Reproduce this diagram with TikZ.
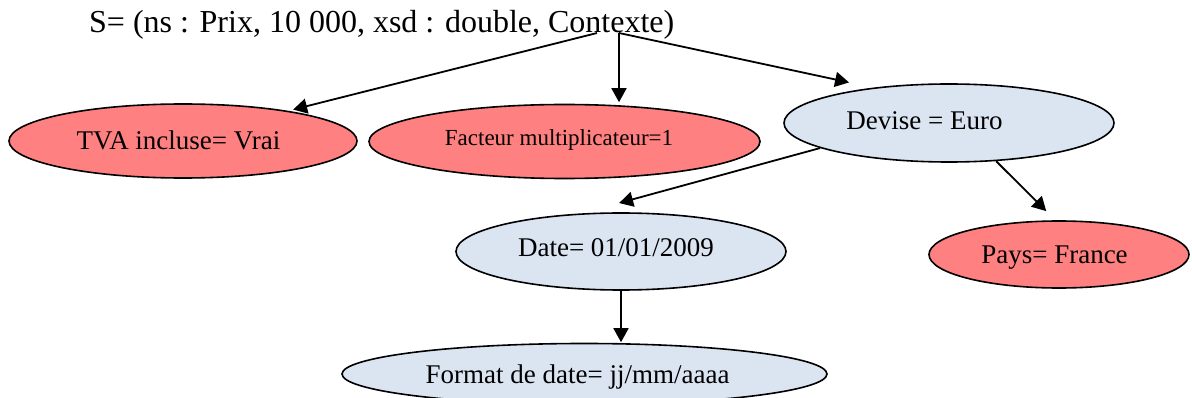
\documentclass[tikz,border=0pt]{standalone}
\usepackage{fontspec}
\setmainfont{Liberation Serif}
\usetikzlibrary{shapes.geometric,arrows.meta}
\definecolor{redfill}{RGB}{255,128,128}
\definecolor{bluefill}{RGB}{219,229,241}
\begin{document}
\begin{tikzpicture}[x=1pt,y=-1pt,
  ell/.style={ellipse,draw=black,line width=1.6pt,inner sep=0pt,text depth=0pt,font=\fontsize{27}{32}\selectfont},
  redell/.style={ell,fill=redfill},
  blueell/.style={ell,fill=bluefill},
  arr/.style={line width=1.8pt,-{Triangle[length=14pt,width=15pt]}}]
\useasboundingbox (0,0) rectangle (1192,398);
\node[anchor=base west,inner sep=0pt,font=\fontsize{32}{38}\selectfont] (title) at (89,33) {S= (ns : Prix, 10 000, xsd : double, Contexte)};
\coordinate (c1) at (597,33);
\coordinate (c2) at (619,33);
\node[redell,minimum width=348pt,minimum height=74pt,text height=17pt] (tva) at (183,141) {TVA incluse= Vrai\hspace*{9pt}};
\node[redell,minimum width=391pt,minimum height=74pt,text height=8pt,font=\fontsize{23}{28}\selectfont] (fac) at (564.5,141.5) {Facteur multiplicateur=1\hspace*{11pt}};
\node[blueell,minimum width=330pt,minimum height=78pt,text height=13pt] (dev) at (949,123) {Devise = Euro\hspace*{49pt}};
\node[redell,minimum width=260pt,minimum height=67pt,text height=18pt] (pays) at (1059,254.5) {Pays= France\hspace*{9pt}};
\node[blueell,minimum width=330pt,minimum height=77pt,text height=10pt] (date) at (621,251.5) {Date= 01/01/2009\hspace*{10pt}};
\node[blueell,minimum width=485pt,minimum height=61pt,text height=18pt] (fmt) at (584.5,374) {Format de date= jj/mm/aaaa\hspace*{14pt}};
\draw[arr,shorten >=5pt] (c1) -- (tva.16.7);
\draw[arr,shorten >=1.5pt] (c2) -- (c2 |- fac.north);
\draw[arr,shorten >=24.6pt] (c2) -- (dev.155.1);
\draw[arr,shorten >=39pt] (dev.191.66) -- (date.136);
\draw[arr,shorten >=12.9pt] (dev.-39.2) -- (pays.96.5);
\draw[arr,shorten >=0.5pt] (date.south) -- (date.south |- fmt.north);
\end{tikzpicture}
\end{document}
